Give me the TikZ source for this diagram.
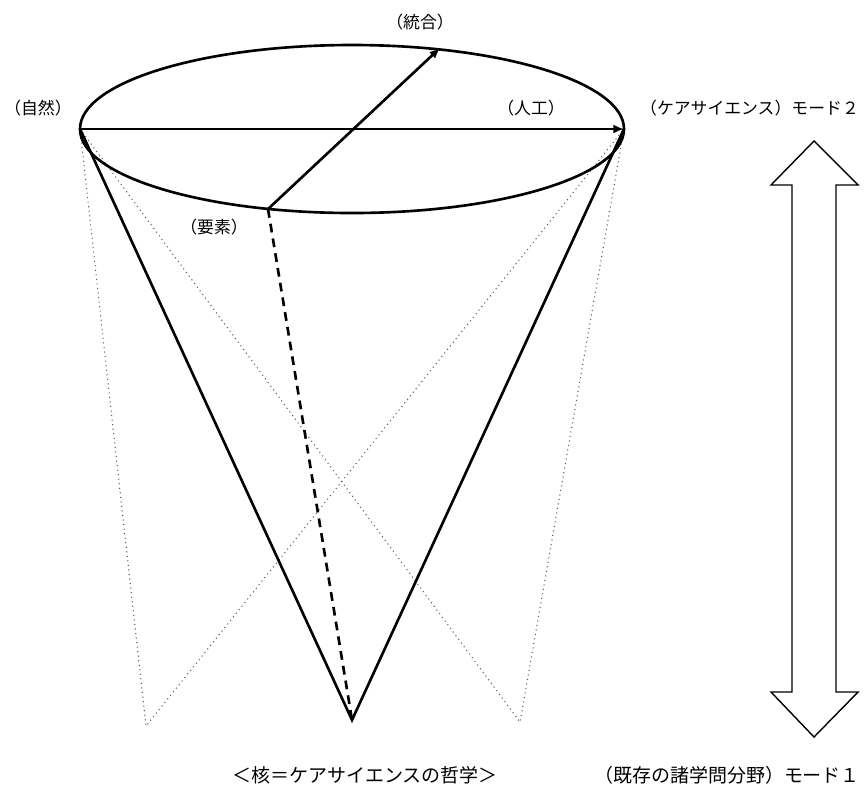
\documentclass[tikz,border=0pt]{standalone}
\usepackage{fontspec}
\setmainfont{Noto Sans CJK JP}
\usetikzlibrary{arrows.meta,positioning}
\tikzset{
  rim/.style={line width=1.5pt},
  guide/.style={gray!70!black, line width=0.6pt, dotted},
  lbl/.style={inner sep=1pt, font=\fontsize{9.6}{11}\selectfont},
  biglbl/.style={inner sep=1pt, font=\fontsize{10.8}{12}\selectfont},
  tip/.style={-{Latex[length=6pt,width=5pt]}},
}
\begin{document}
\begin{tikzpicture}[x=0.02cm, y=-0.02cm]
  \useasboundingbox (0,0) rectangle (864,789);
  % rim points and apex of the cone
  \coordinate (nat) at (80,129);
  \coordinate (art) at (624,129);
  \coordinate (elem) at (268,209);
  \coordinate (integ) at (440,48);
  \coordinate (core) at (352,720);
  \coordinate (lv) at (146,726);
  \coordinate (rv) at (520,722);
  % dotted guide lines
  \draw[guide] (nat) -- (lv) -- (art);
  \draw[guide] (nat) -- (rv) -- (art);
  % cone
  \draw[rim] (352,129) ellipse [x radius=272, y radius=84];
  \draw[rim] (nat) -- (core) -- (art);
  \draw[line width=1.5pt, dash pattern=on 5pt off 3.5pt] (elem) -- (core);
  \draw[rim, tip] (nat) -- (art);
  \draw[rim, tip] (elem) -- (integ);
  % labels
  \node[lbl] (integlbl) at (420,22) {（統合）};
  \node[lbl] (natlbl) at (38,108) {（自然）};
  \node[lbl] (artlbl) at (531,108) {（人工）};
  \node[lbl] (elemlbl) at (214,227) {（要素）};
  \node[lbl, anchor=east] (mode2) at (861,108) {（ケアサイエンス）モード２};
  \node[biglbl] (corelbl) at (365,775) {＜核＝ケアサイエンスの哲学＞};
  \node[biglbl, anchor=east] (mode1) at (862,775) {（既存の諸学問分野）モード１};
  % double arrow between the two modes
  \draw[line width=0.8pt] (814,141) -- (858,185) -- (836,185) -- (836,692)
    -- (858,692) -- (814,737) -- (771,692) -- (792,692) -- (792,185)
    -- (771,185) -- cycle;
\end{tikzpicture}
\end{document}
